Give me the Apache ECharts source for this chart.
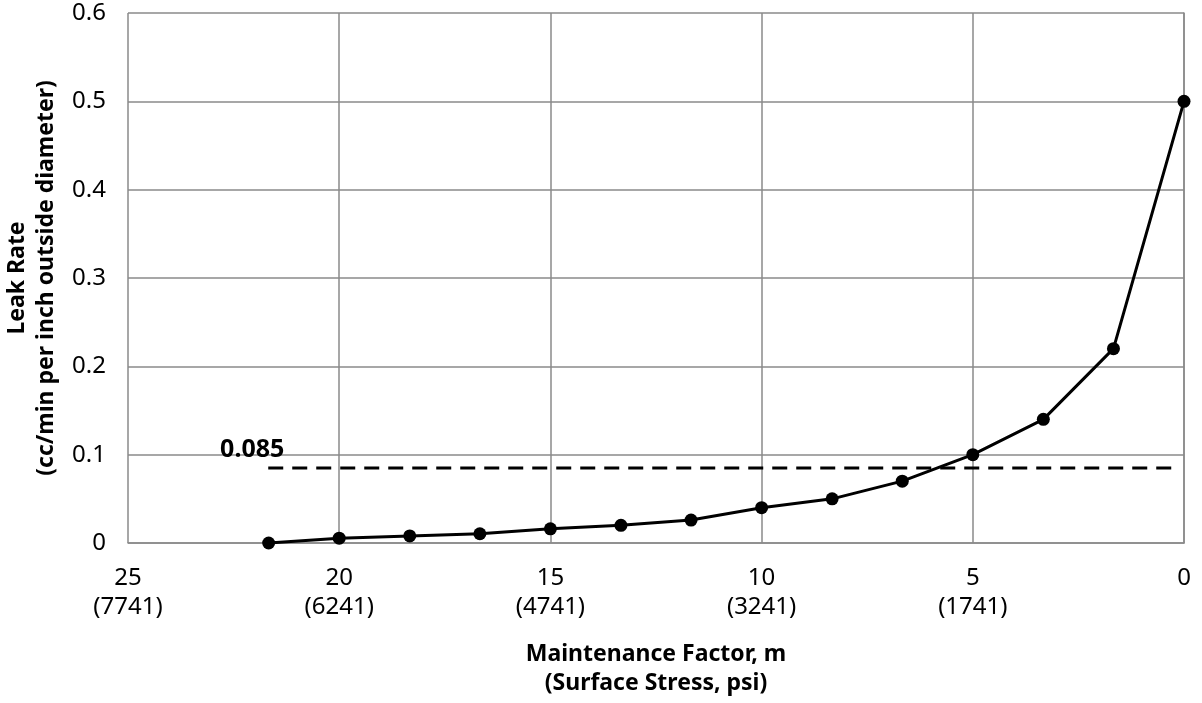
<!DOCTYPE html>
<html>
<head>
<meta charset="utf-8">
<script src="https://cdn.jsdelivr.net/npm/echarts@6/dist/echarts.min.js"></script>
<style>
  html, body { margin: 0; padding: 0; background: #fff; }
  #chart { width: 1202px; height: 703px; }
</style>
</head>
<body>
<div id="chart"></div>
<script>
// maintenance factor m and measured leak rate
const factorM = [21.67, 20, 18.33, 16.67, 15, 13.33, 11.67, 10, 8.33, 6.67, 5, 3.33, 1.67, 0];
const leakRate = [0, 0.0055, 0.008, 0.0105, 0.016, 0.02, 0.026, 0.04, 0.05, 0.07, 0.1, 0.14, 0.22, 0.5];

// 0.085 limit line
const limitValue = 0.085;
const limitRange = [21.68, 0.17];

// x tick labels: m and the surface stress in psi
const xTicks = [25, 20, 15, 10, 5, 0];
const xStress = ['7741', '6241', '4741', '3241', '1741', ''];

const fontName = 'Noto Sans';
const gridColor = '#8a8a8a';

const chart = echarts.init(document.getElementById('chart'));

chart.setOption({
  animation: false,
  textStyle: { fontFamily: fontName },
  grid: { left: 128, right: 18, top: 13, bottom: 160, containLabel: false, outerBoundsMode: 'none' },
  xAxis: {
    type: 'value',
    inverse: true,
    min: 0,
    max: 25,
    interval: 5,
    name: 'Maintenance Factor, m\n(Surface Stress, psi)',
    nameLocation: 'middle',
    nameGap: 97,
    nameTextStyle: { fontFamily: fontName, fontWeight: 'bold', fontSize: 23, color: '#000', lineHeight: 29 },
    axisLine: { show: true, lineStyle: { color: gridColor, width: 1.5 } },
    axisTick: { show: false },
    splitLine: { show: true, lineStyle: { color: gridColor, width: 1.5 } },
    axisLabel: {
      margin: 21,
      fontSize: 24,
      color: '#000',
      lineHeight: 29,
      formatter: function(v) {
        let i = xTicks.indexOf(v);
        if (i < 0) return '';
        return xStress[i] ? v + '\n(' + xStress[i] + ')' : v + '\n';
      }
    }
  },
  yAxis: {
    type: 'value',
    min: 0,
    max: 0.6,
    interval: 0.1,
    name: 'Leak Rate\n(cc/min per inch outside diameter)',
    nameLocation: 'middle',
    nameGap: 64,
    nameTextStyle: { fontFamily: fontName, fontWeight: 'bold', fontSize: 23, color: '#000', lineHeight: 29 },
    axisLine: { show: true, lineStyle: { color: gridColor, width: 1.5 } },
    axisTick: { show: false },
    splitLine: { show: true, lineStyle: { color: gridColor, width: 1.5 } },
    axisLabel: {
      margin: 22,
      fontSize: 24,
      color: '#000',
      formatter: function(v) { return String(Math.round(v * 10) / 10); }
    }
  },
  series: [
    {
      name: 'limit',
      type: 'line',
      data: limitRange.map(x => [x, limitValue]),
      symbol: 'none',
      lineStyle: { color: '#000', width: 3, type: [15, 9] },
      z: 3
    },
    {
      // text above the start of the limit line
      name: 'limitLabel',
      type: 'scatter',
      data: [[limitRange[0], limitValue]],
      symbolSize: 0.01,
      itemStyle: { color: '#000', opacity: 1 },
      label: {
        show: true,
        position: 'top',
        distance: 0,
        offset: [-16, -6],
        fontFamily: fontName,
        fontWeight: 'bold',
        fontSize: 25,
        color: '#000',
        textBorderWidth: 0,
        formatter: () => String(limitValue)
      },
      z: 3
    },
    {
      name: 'leak',
      type: 'line',
      data: factorM.map((m, i) => [m, leakRate[i]]),
      symbol: 'circle',
      symbolSize: 13,
      itemStyle: { color: '#000' },
      lineStyle: { color: '#000', width: 3 },
      z: 4
    }
  ]
});
</script>
</body>
</html>
